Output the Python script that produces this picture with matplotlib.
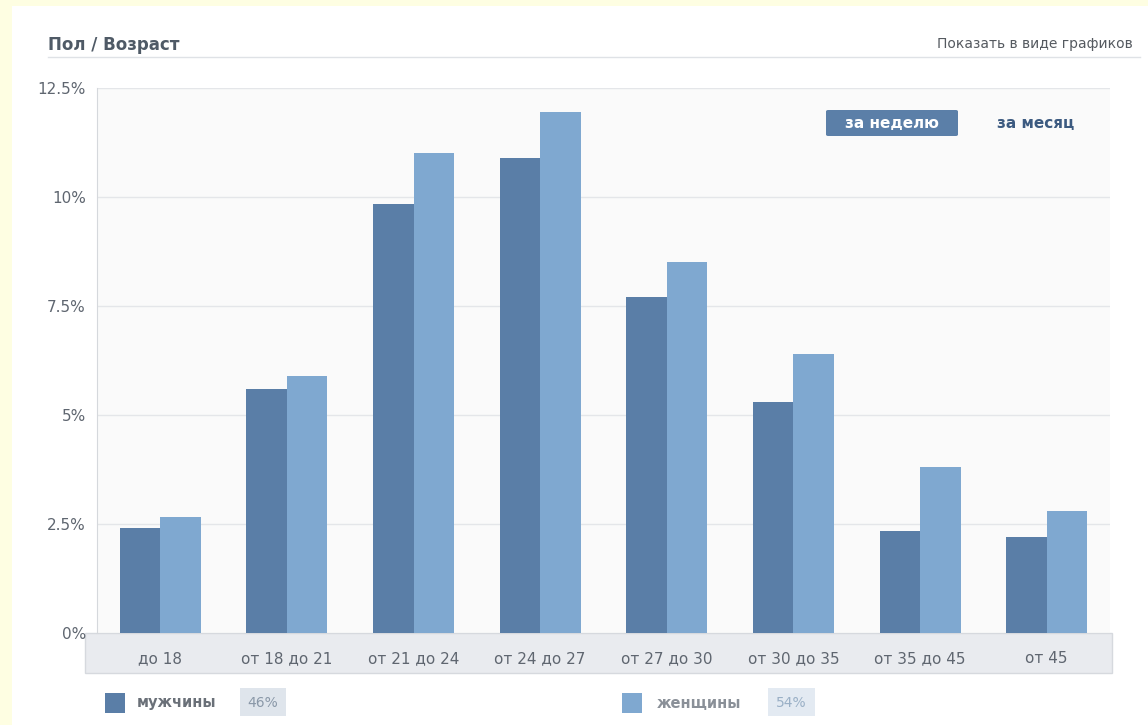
import numpy as np
import matplotlib
matplotlib.use("Agg")
from matplotlib import pyplot as plt
from matplotlib.patches import Rectangle, FancyBboxPatch

# данные (проценты)
categories = ["до 18", "от 18 до 21", "от 21 до 24", "от 24 до 27",
              "от 27 до 30", "от 30 до 35", "от 35 до 45", "от 45"]
men = [2.4, 5.6, 9.85, 10.9, 7.7, 5.3, 2.35, 2.2]
women = [2.65, 5.9, 11.0, 11.95, 8.5, 6.4, 3.8, 2.8]
yticks = [0, 2.5, 5, 7.5, 10, 12.5]
ytick_labels = ["0%", "2.5%", "5%", "7.5%", "10%", "12.5%"]
men_share = "46%"
women_share = "54%"

W, H = 1148, 725
c_men = "#5a7ea7"
c_women = "#7fa8d0"
c_text = "#5f6670"

fig = plt.figure(figsize=(W / 100, H / 100), dpi=100)
fig.patch.set_facecolor("white")

def fx(x):
    return x / W

def fy(y):
    return 1 - y / H

# желтая рамка слева и сверху
fig.patches.append(Rectangle((0, 0), fx(12), 1, transform=fig.transFigure,
                             facecolor="#fefee2", edgecolor="none", zorder=-2))
fig.patches.append(Rectangle((0, fy(6)), 1, 6 / H, transform=fig.transFigure,
                             facecolor="#fefee2", edgecolor="none", zorder=-2))

# заголовок
fig.text(fx(48), fy(45), "Пол / Возраст", fontsize=12, fontweight="bold",
         color="#4f5a66", va="center", ha="left")
fig.text(fx(1133), fy(44), "Показать в виде графиков", fontsize=10,
         color="#555a60", va="center", ha="right")
fig.lines.append(plt.Line2D([fx(48), fx(1140)], [fy(57), fy(57)],
                            transform=fig.transFigure, color="#dfe2e6", lw=1))

# полоса подписей оси X
fig.patches.append(Rectangle((fx(85), fy(673)), fx(1112) - fx(85), 40 / H,
                             transform=fig.transFigure, facecolor="#e9ebef",
                             edgecolor="#d6d9de", lw=1, zorder=-1))

ax = fig.add_axes([fx(97), fy(633), fx(1110) - fx(97), fy(88) - fy(633)])
ax.set_zorder(1)
ax.set_facecolor("#fafafa")

x = np.arange(len(categories))
bw = 0.32
ax.bar(x - bw / 2, men, bw, color=c_men, zorder=3)
ax.bar(x + bw / 2, women, bw, color=c_women, zorder=3)

ax.set_xlim(-0.5, len(categories) - 0.5)
ax.set_ylim(0, 12.5)
ax.set_yticks(yticks)
ax.set_yticklabels(ytick_labels)
ax.set_xticks(x)
ax.set_xticklabels(categories)
ax.tick_params(axis="x", length=0, pad=13, labelsize=11, labelcolor=c_text)
ax.tick_params(axis="y", length=0, pad=8, labelsize=11, labelcolor=c_text)
ax.grid(True, axis="y", color="#e4e6e9", lw=1, zorder=0)
for s in ["top", "right", "bottom"]:
    ax.spines[s].set_visible(False)
ax.spines["left"].set_color("#d5d8dc")

# кнопки периода
fig.patches.append(FancyBboxPatch((fx(826), fy(136)), fx(958) - fx(826), 26 / H,
                                  boxstyle="round,pad=0,rounding_size=0.002",
                                  transform=fig.transFigure, facecolor="#5b7fa8",
                                  edgecolor="none", zorder=5))
fig.text(fx(892), fy(123), "за неделю", fontsize=11, fontweight="bold",
         color="white", ha="center", va="center", zorder=6)
fig.text(fx(1036), fy(123), "за месяц", fontsize=11, fontweight="bold",
         color="#3c5a80", ha="center", va="center", zorder=6)

# легенда
fig.patches.append(Rectangle((fx(105), fy(713)), 20 / W, 20 / H,
                             transform=fig.transFigure, facecolor=c_men,
                             edgecolor="none"))
fig.text(fx(137), fy(703), "мужчины", fontsize=10.5, fontweight="bold",
         color="#6a7078", va="center", ha="left")
fig.patches.append(Rectangle((fx(240), fy(716)), 46 / W, 28 / H,
                             transform=fig.transFigure, facecolor="#dfe5ec",
                             edgecolor="none"))
fig.text(fx(263), fy(703), men_share, fontsize=10, color="#8a98a8",
         va="center", ha="center")

fig.patches.append(Rectangle((fx(622), fy(713)), 20 / W, 20 / H,
                             transform=fig.transFigure, facecolor=c_women,
                             edgecolor="none"))
fig.text(fx(657), fy(703), "женщины", fontsize=10.5, fontweight="bold",
         color="#8a9098", va="center", ha="left")
fig.patches.append(Rectangle((fx(768), fy(716)), 47 / W, 28 / H,
                             transform=fig.transFigure, facecolor="#e3eaf2",
                             edgecolor="none"))
fig.text(fx(791), fy(703), women_share, fontsize=10, color="#9ab0c6",
         va="center", ha="center")

fig.savefig("out.png", dpi=100, facecolor=fig.get_facecolor())
